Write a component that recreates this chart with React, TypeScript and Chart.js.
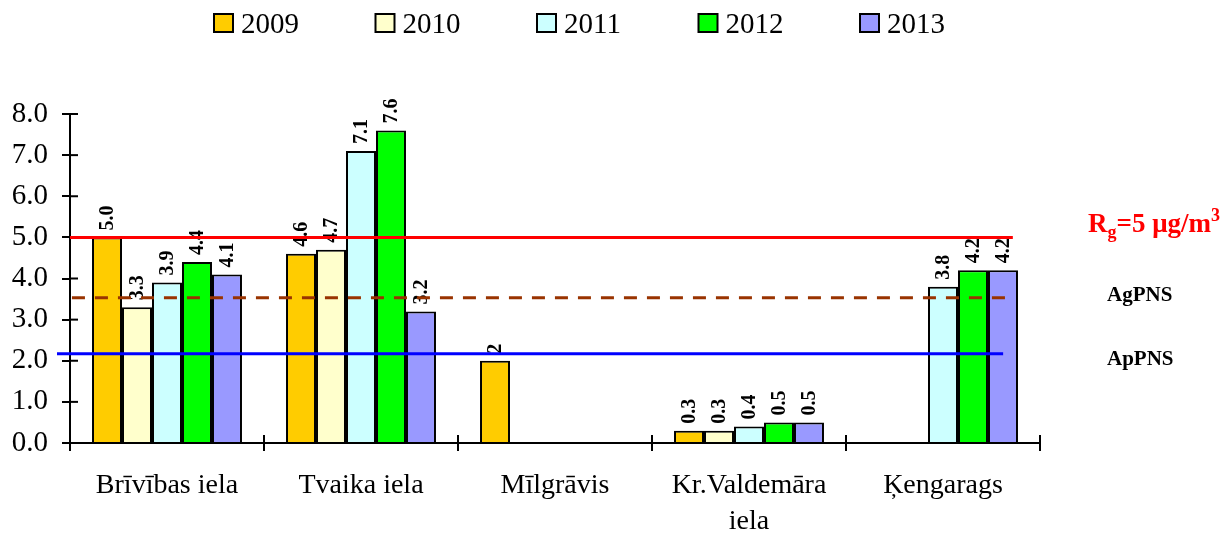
import React, { useEffect, useRef } from 'react';
import { Chart, registerables } from 'chart.js';
Chart.register(...registerables);

const categories: (string | string[])[] = ['Brīvības iela', 'Tvaika iela', 'Mīlgrāvis', ['Kr.Valdemāra', 'iela'], 'Ķengarags'];
const years = ['2009', '2010', '2011', '2012', '2013'];
const v2009 = ['5.0', '4.6', '2', '0.3', null];
const v2010 = ['3.3', '4.7', null, '0.3', null];
const v2011 = ['3.9', '7.1', null, '0.4', '3.8'];
const v2012 = ['4.4', '7.6', null, '0.5', '4.2'];
const v2013 = ['4.1', '3.2', null, '0.5', '4.2'];
const series = [v2009, v2010, v2011, v2012, v2013];
const yMin = 0;
const yMax = 8;
const yStep = 1;
const limitRg = 5;
const limitAg = 3.53;
const limitAp = 2.17;

const colors = ['#FFCC00', '#FFFFCC', '#CCFFFF', '#00FF00', '#9999FF'];
const SERIF = '"Liberation Serif", "Times New Roman", serif';

const refLines = [
  { value: limitRg, color: '#FF0000', dash: [] as number[], from: 0, to: 0.972 },
  { value: limitAg, color: '#993300', dash: [13, 10], from: 0.002, to: 0.972 },
  { value: limitAp, color: '#0000FF', dash: [] as number[], from: -0.0134, to: 0.962 },
];

const overlayPlugin = {
  id: 'overlay',
  afterDatasetsDraw(chart: any) {
    const ctx = chart.ctx;
    const area = chart.chartArea;
    const ys = chart.scales.y;
    // inner tick extensions
    ctx.save();
    ctx.strokeStyle = '#000';
    ctx.lineWidth = 2;
    ys.ticks.forEach((_t: any, i: number) => {
      const y = ys.getPixelForTick(i);
      ctx.beginPath();
      ctx.moveTo(area.left, y);
      ctx.lineTo(area.left + 8, y);
      ctx.stroke();
    });
    const n = categories.length;
    const cw = (area.right - area.left) / n;
    for (let k = 1; k <= n; k++) {
      const x = area.left + k * cw;
      ctx.beginPath();
      ctx.moveTo(x, area.bottom);
      ctx.lineTo(x, area.bottom - 8);
      ctx.stroke();
    }
    ctx.restore();

    // value labels
    chart.data.datasets.forEach((_ds: any, di: number) => {
      const meta = chart.getDatasetMeta(di);
      meta.data.forEach((bar: any, i: number) => {
        const txt = series[di][i];
        if (txt == null) return;
        ctx.save();
        ctx.translate(bar.x + 1, bar.y - 7);
        ctx.rotate(-Math.PI / 2);
        ctx.font = `bold 20px ${SERIF}`;
        ctx.fillStyle = '#000';
        ctx.textAlign = 'left';
        ctx.textBaseline = 'middle';
        ctx.fillText(txt, 0, 0);
        ctx.restore();
      });
    });

    // reference lines
    const w = area.right - area.left;
    refLines.forEach((r) => {
      const y = ys.getPixelForValue(r.value);
      ctx.save();
      ctx.strokeStyle = r.color;
      ctx.lineWidth = 3;
      ctx.setLineDash(r.dash);
      ctx.beginPath();
      ctx.moveTo(area.left + r.from * w, y);
      ctx.lineTo(area.left + r.to * w, y);
      ctx.stroke();
      ctx.restore();
    });

    // right-side labels
    const yRg = ys.getPixelForValue(limitRg);
    const yAg = ys.getPixelForValue(limitAg);
    const yAp = ys.getPixelForValue(limitAp);
    ctx.save();
    ctx.fillStyle = '#FF0000';
    ctx.textAlign = 'left';
    ctx.textBaseline = 'alphabetic';
    let x = area.right + 48;
    const base = yRg - 5;
    const big = `bold 27px ${SERIF}`;
    const small = `bold 18px ${SERIF}`;
    ctx.font = big;
    ctx.fillText('R', x, base);
    x += ctx.measureText('R').width;
    ctx.font = small;
    ctx.fillText('g', x, base + 6);
    x += ctx.measureText('g').width;
    ctx.font = big;
    ctx.fillText('=5 μg/m', x, base);
    x += ctx.measureText('=5 μg/m').width;
    ctx.font = small;
    ctx.fillText('3', x, base - 11);
    ctx.fillStyle = '#000';
    ctx.font = `bold 21px ${SERIF}`;
    ctx.fillText('AgPNS', area.right + 67, yAg + 3);
    ctx.fillText('ApPNS', area.right + 67, yAp + 11);
    ctx.restore();

    // legend
    ctx.save();
    years.forEach((yr, i) => {
      const bx = 214 + i * 161.5;
      ctx.fillStyle = colors[i];
      ctx.fillRect(bx, 14, 19, 18);
      ctx.strokeStyle = '#000';
      ctx.lineWidth = 2;
      ctx.strokeRect(bx, 14, 19, 18);
      ctx.font = `29px ${SERIF}`;
      ctx.fillStyle = '#000';
      ctx.textAlign = 'left';
      ctx.textBaseline = 'alphabetic';
      ctx.fillText(yr, bx + 27, 33);
    });
    ctx.restore();
  },
};

export default function App() {
  const ref = useRef<HTMLCanvasElement | null>(null);
  useEffect(() => {
    if (!ref.current) return;
    const chart = new Chart(ref.current, {
      type: 'bar',
      data: {
        labels: categories,
        datasets: years.map((yr, i) => ({
          label: yr,
          data: series[i].map((s) => (s == null ? null : parseFloat(s))),
          backgroundColor: colors[i],
          borderColor: '#000',
          borderWidth: 2,
          categoryPercentage: 0.773,
          barPercentage: 1,
        })),
      },
      options: {
        responsive: false,
        animation: false,
        layout: { padding: { left: 8, right: 181, top: 114, bottom: 0 } },
        plugins: { legend: { display: false }, tooltip: { enabled: false } },
        scales: {
          x: {
            afterFit: (s: any) => { s.height = 92; },
            grid: { drawOnChartArea: false, drawTicks: true, tickLength: 8, color: '#000', lineWidth: 2, offset: true },
            border: { color: '#000', width: 2 },
            ticks: { color: '#000', padding: 16, maxRotation: 0, autoSkip: false, font: { family: SERIF, size: 28, lineHeight: 1.3 } },
          },
          y: {
            min: yMin,
            max: yMax,
            afterFit: (s: any) => { s.width = 62; },
            grid: { drawOnChartArea: false, drawTicks: true, tickLength: 8, color: '#000', lineWidth: 2 },
            border: { color: '#000', width: 2 },
            ticks: { stepSize: yStep, color: '#000', padding: 14, font: { family: SERIF, size: 29 }, callback: (v: any) => Number(v).toFixed(1) },
          },
        },
      },
      plugins: [overlayPlugin],
    });
    return () => chart.destroy();
  }, []);
  return (
    <div style={{ position: 'fixed', left: 0, top: 0, width: 1221, height: 535, background: '#fff' }}>
      <canvas ref={ref} width={1221} height={535} style={{ display: 'block' }} />
    </div>
  );
}
